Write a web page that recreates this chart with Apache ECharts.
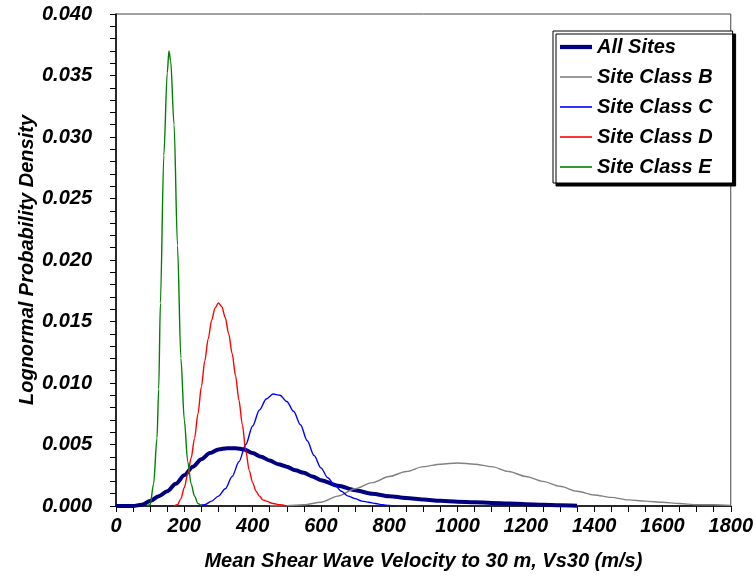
<!DOCTYPE html>
<html>
<head>
<meta charset="utf-8">
<script src="https://cdn.jsdelivr.net/npm/echarts@6/dist/echarts.min.js"></script>
<style>
html,body{margin:0;padding:0;background:#fff;}
#chart{width:756px;height:576px;}
</style>
</head>
<body>
<div id="chart"></div>
<script>
// ---- data ----
var seriesNames = ['All Sites', 'Site Class B', 'Site Class C', 'Site Class D', 'Site Class E'];

var allX = [0, 50, 75, 100, 125, 150, 175, 200, 225, 250, 275, 300, 325, 350, 375, 400, 425, 450, 475, 500, 525, 550, 575, 600, 650, 700, 750, 800, 850, 900, 950, 1000, 1050, 1100, 1150, 1200, 1250, 1300, 1350];
var allY = [0, 0, 0.0001, 0.0004, 0.0008, 0.0012, 0.0018, 0.0025, 0.0032, 0.0038, 0.0043, 0.0046, 0.0047, 0.0047, 0.0046, 0.0043, 0.0040, 0.0037, 0.0034, 0.0032, 0.0029, 0.0027, 0.0024, 0.0021, 0.00165, 0.00128, 0.0010, 0.0008, 0.00065, 0.00052, 0.00042, 0.00035, 0.0003, 0.00025, 0.0002, 0.00015, 0.0001, 0.00007, 0.00003];

var bX = [450, 500, 550, 600, 650, 700, 750, 800, 850, 900, 950, 1000, 1050, 1100, 1150, 1200, 1250, 1300, 1350, 1400, 1450, 1500, 1550, 1600, 1650, 1700, 1750, 1800];
var bY = [0, 0.00002, 0.0001, 0.0003, 0.0008, 0.0014, 0.0019, 0.0024, 0.0028, 0.0032, 0.0034, 0.0035, 0.0034, 0.0032, 0.0028, 0.0024, 0.0020, 0.0016, 0.0012, 0.0009, 0.0007, 0.0005, 0.0004, 0.0003, 0.0002, 0.0001, 0.0001, 0.00005];

var cX = [240, 260, 280, 300, 320, 340, 360, 380, 400, 420, 440, 460, 480, 500, 520, 540, 560, 580, 600, 620, 640, 660, 680, 700, 720, 740, 760, 780, 800, 820];
var cY = [0, 0.0001, 0.0004, 0.0008, 0.0014, 0.0024, 0.0036, 0.0050, 0.0065, 0.0078, 0.0087, 0.0091, 0.0090, 0.0085, 0.0077, 0.0066, 0.0053, 0.0041, 0.0031, 0.0023, 0.0017, 0.0012, 0.0008, 0.0006, 0.0004, 0.0003, 0.0002, 0.0001, 0.00005, 0];

var dX = [170, 180, 190, 200, 210, 220, 230, 240, 250, 260, 270, 280, 290, 300, 310, 320, 330, 340, 350, 360, 370, 380, 390, 400, 410, 420, 430, 440, 460, 480, 500];
var dY = [0, 0.0001, 0.0006, 0.0015, 0.0026, 0.0039, 0.0055, 0.0075, 0.0097, 0.0118, 0.0136, 0.0151, 0.0161, 0.0165, 0.0162, 0.0153, 0.0140, 0.0124, 0.0106, 0.0086, 0.0066, 0.0045, 0.0029, 0.0019, 0.0012, 0.0008, 0.0005, 0.0004, 0.0002, 0.0001, 0];

var eX = [90, 100, 110, 120, 125, 130, 140, 150, 155, 160, 170, 180, 190, 200, 210, 220, 230, 240, 250];
var eY = [0, 0.0001, 0.0018, 0.0055, 0.0095, 0.0165, 0.0285, 0.0352, 0.0370, 0.0362, 0.0310, 0.0212, 0.0120, 0.0070, 0.0036, 0.0018, 0.0008, 0.0002, 0];

var xTicks = {min: 0, max: 1800, interval: 200};
var yTicks = {min: 0, max: 0.040, interval: 0.005};

// ---- build ----
function pairs(xs, ys) { return xs.map(function (x, i) { return [x, ys[i]]; }); }
var seriesData = [pairs(allX, allY), pairs(bX, bY), pairs(cX, cY), pairs(dX, dY), pairs(eX, eY)];
var colors = ['#000080', '#808080', '#0000ff', '#ff0000', '#008000'];
var widths = [4, 1.4, 1.4, 1.4, 1.4];
var legendIcons = ['path://M0,0H30V4H0Z', 'path://M0,0H30V1.5H0Z', 'path://M0,0H30V1.5H0Z', 'path://M0,0H30V1.5H0Z', 'path://M0,0H30V1.5H0Z'];

var FONT = 'Liberation Sans, Arial, sans-serif';
var txt = {fontFamily: FONT, fontWeight: 'bold', fontStyle: 'italic', fontSize: 20, color: '#000'};

var chart = echarts.init(document.getElementById('chart'), null, {renderer: 'canvas'});
chart.setOption({
  animation: false,
  backgroundColor: '#fff',
  grid: {left: 116, right: 22, top: 14, bottom: 69, show: true, borderColor: '#444', borderWidth: 1, backgroundColor: 'transparent'},
  legend: {
    orient: 'vertical', left: 553, top: 31,
    data: seriesNames.map(function (n, i) { return {name: n, icon: legendIcons[i]}; }),
    padding: [6, 20, 6, 7],
    itemGap: 10, itemWidth: 32, itemHeight: 14,
    backgroundColor: '#fff', borderColor: '#000', borderWidth: 1,
    shadowColor: '#000', shadowBlur: 0, shadowOffsetX: 3, shadowOffsetY: 3,
    textStyle: txt
  },
  xAxis: {
    type: 'value', min: xTicks.min, max: xTicks.max, interval: xTicks.interval,
    name: 'Mean Shear Wave Velocity to 30 m, Vs30 (m/s)',
    nameLocation: 'middle', nameGap: 45, nameMoveOverlap: false, nameTextStyle: txt,
    axisLine: {show: true, onZero: false, lineStyle: {color: '#000', width: 1.5}},
    axisTick: {show: true, inside: false, length: 6, lineStyle: {color: '#000'}},
    minorTick: {show: true, splitNumber: 4, length: 6, lineStyle: {color: '#000'}},
    axisLabel: Object.assign({margin: 10, formatter: function (v) { return String(v); }}, txt),
    splitLine: {show: false}
  },
  yAxis: {
    type: 'value', min: yTicks.min, max: yTicks.max, interval: yTicks.interval,
    name: 'Lognormal Probability Density',
    nameLocation: 'middle', nameGap: 79, nameMoveOverlap: false, nameTextStyle: txt,
    axisLine: {show: true, onZero: false, lineStyle: {color: '#000', width: 1.5}},
    axisTick: {show: true, inside: false, length: 6, lineStyle: {color: '#000'}},
    minorTick: {show: true, splitNumber: 5, length: 6, lineStyle: {color: '#000'}},
    axisLabel: Object.assign({margin: 24, formatter: function (v) { return v.toFixed(3); }}, txt),
    splitLine: {show: false}
  },
  series: seriesNames.map(function (n, i) {
    return {
      name: n, type: 'line', data: seriesData[i],
      symbol: 'none', showSymbol: false, smooth: 0.3, smoothMonotone: 'x',
      lineStyle: {color: colors[i], width: widths[i]},
      itemStyle: {color: colors[i]},
      z: i === 0 ? 2 : 3
    };
  })
});
</script>
</body>
</html>
